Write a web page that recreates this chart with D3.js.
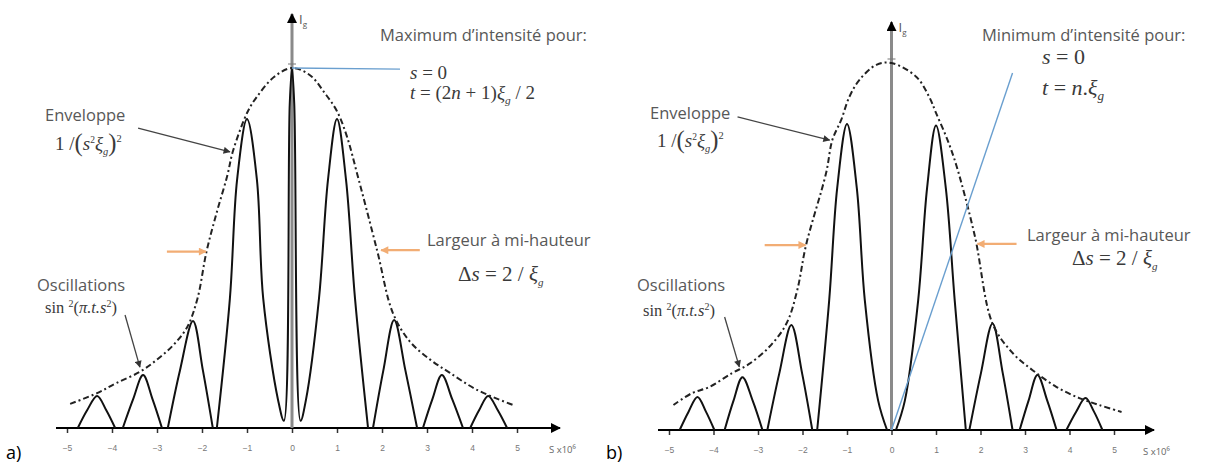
<!DOCTYPE html>
<html>
<head>
<meta charset="utf-8">
<script src="https://cdn.jsdelivr.net/npm/d3@7"></script>
<style>
  body { margin: 0; background: #fff; }
  svg { display: block; font-family: "Open Sans", sans-serif; }
  .lbl { fill: #585858; font-size: 16.5px; }
  .math { font-family: "Liberation Serif", "DejaVu Serif", serif; fill: #3a3a3a; }
  .tick text { fill: #777; font-size: 8.5px; }
</style>
</head>
<body>
<svg id="chart" width="1208" height="463"></svg>
<script>
// s values (x10^6) on the horizontal axis
const sTicks = [-5, -4, -3, -2, -1, 0, 1, 2, 3, 4, 5];

// panel a) oscillation arches, [s, I] with I relative to the envelope maximum
const lobesA = [
  [[-4.76, 0], [-4.55, 0.05], [-4.33, 0.089], [-4.13, 0.05], [-3.93, 0]],
  [[-3.76, 0], [-3.53, 0.08], [-3.31, 0.147], [-3.1, 0.08], [-2.89, 0]],
  [[-2.76, 0], [-2.49, 0.16], [-2.2, 0.297], [-1.98, 0.16], [-1.76, 0]],
  [[-1.67, 0], [-1.38, 0.36], [-1.22, 0.69], [-1.0, 0.858], [-0.78, 0.69], [-0.64, 0.36], [-0.31, 0.078], [-0.18, 0.02],
   [-0.05, 0.9], [0, 1.0], [0.05, 0.9],
   [0.19, 0.02], [0.31, 0.078], [0.6, 0.36], [0.8, 0.69], [1.0, 0.858], [1.2, 0.69], [1.4, 0.36], [1.69, 0]],
  [[1.8, 0], [2.03, 0.16], [2.27, 0.3], [2.52, 0.16], [2.78, 0]],
  [[2.91, 0], [3.12, 0.08], [3.33, 0.147], [3.56, 0.08], [3.8, 0]],
  [[3.96, 0], [4.16, 0.05], [4.36, 0.089], [4.57, 0.05], [4.78, 0]]
];

// panel b) oscillation arches (minimum at s = 0)
const lobesB = [
  [[-4.76, 0], [-4.56, 0.05], [-4.36, 0.09], [-4.17, 0.05], [-3.98, 0]],
  [[-3.75, 0], [-3.55, 0.08], [-3.35, 0.144], [-3.12, 0.08], [-2.9, 0]],
  [[-2.79, 0], [-2.52, 0.155], [-2.25, 0.286], [-2.01, 0.155], [-1.78, 0]],
  [[-1.67, 0], [-1.4, 0.354], [-1.22, 0.66], [-1.0, 0.834], [-0.78, 0.66], [-0.6, 0.354], [-0.3, 0.08], [-0.1, 0]],
  [[0.1, 0], [0.3, 0.08], [0.6, 0.354], [0.8, 0.66], [1.0, 0.83], [1.22, 0.66], [1.42, 0.354], [1.67, 0]],
  [[1.75, 0], [2.01, 0.155], [2.27, 0.29], [2.5, 0.155], [2.72, 0]],
  [[2.88, 0], [3.08, 0.08], [3.28, 0.15], [3.5, 0.08], [3.71, 0]],
  [[3.93, 0], [4.15, 0.05], [4.36, 0.087], [4.55, 0.05], [4.74, 0]]
];

// dash-dot envelope 1/(s.xi_g)^2
const envelopeA = [
  [-4.93, 0.067], [-4.33, 0.097], [-3.9, 0.125], [-3.38, 0.156], [-3.0, 0.19], [-2.64, 0.23],
  [-2.33, 0.28], [-2.1, 0.36], [-1.9, 0.49], [-1.67, 0.6], [-1.44, 0.7], [-1.31, 0.77],
  [-0.98, 0.88], [-0.78, 0.92], [-0.4, 0.975], [0, 1.0], [0.4, 0.98], [0.73, 0.93],
  [1.0, 0.88], [1.22, 0.81], [1.44, 0.71], [1.89, 0.494], [2.24, 0.32], [2.62, 0.24],
  [3.07, 0.19], [3.51, 0.153], [4.11, 0.106], [4.91, 0.064]
];
const envelopeB = [
  [-4.9, 0.068], [-4.49, 0.1], [-4.1, 0.117], [-3.58, 0.155], [-3.2, 0.18], [-2.75, 0.226],
  [-2.36, 0.29], [-2.12, 0.38], [-1.92, 0.504], [-1.47, 0.7], [-1.33, 0.79], [-1.13, 0.845],
  [-0.95, 0.907], [-0.72, 0.954], [-0.34, 0.995], [0, 1.0], [0.56, 0.962], [0.85, 0.907],
  [1.0, 0.864], [1.26, 0.79], [1.46, 0.72], [1.87, 0.53], [2.27, 0.29], [2.72, 0.21],
  [3.17, 0.163], [3.71, 0.117], [4.22, 0.087], [4.67, 0.068], [5.17, 0.049]
];

const svg = d3.select('#chart');
const defs = svg.append('defs');

function marker(id, color, w, h) {
  defs.append('marker')
    .attr('id', id)
    .attr('viewBox', '0 0 10 10')
    .attr('refX', 9).attr('refY', 5)
    .attr('markerWidth', w).attr('markerHeight', h)
    .attr('markerUnits', 'userSpaceOnUse')
    .attr('orient', 'auto')
    .append('path').attr('d', 'M0,0L10,5L0,10z').attr('fill', color);
}
marker('axisHead', '#000', 13, 10);
marker('noteHead', '#333', 9, 7);
marker('orangeHead', '#f2ad74', 9, 8);

const panels = [
  {
    tag: 'a)', lobes: lobesA, env: envelopeA,
    xr: [67, 517], base: 428, top: 68, axisL: 56, axisR: 560, yTip: 14, tagX: 6,
    envArrow: [[-3.42, 0.833], [-1.38, 0.767]],
    oscArrow: [[-3.71, 0.314], [-3.38, 0.169]],
    blue: [[0, 1.0], [2.4, 0.997]],
    half: [[[-2.78, 0.49], [-1.91, 0.49]], [[2.84, 0.494], [1.98, 0.494]]]
  },
  {
    tag: 'b)', lobes: lobesB, env: envelopeB,
    xr: [669, 1114], base: 430, top: 63, axisL: 658, axisR: 1154, yTip: 22, tagX: 606,
    envArrow: [[-3.46, 0.853], [-1.39, 0.79]],
    oscArrow: [[-3.75, 0.308], [-3.42, 0.172]],
    blue: [[0, 0], [2.72, 0.973]],
    half: [[[-2.85, 0.504], [-1.93, 0.504]], [[2.81, 0.507], [1.93, 0.507]]]
  }
];

panels.forEach(p => {
  const x = d3.scaleLinear().domain([-5, 5]).range(p.xr);
  const y = d3.scaleLinear().domain([0, 1]).range([p.base, p.top]);
  const g = svg.append('g');

  // x axis ticks and labels
  g.append('g')
    .attr('class', 'axis')
    .attr('transform', 'translate(0,' + p.base + ')')
    .call(d3.axisBottom(x).tickValues(sTicks).tickSize(5).tickPadding(12).tickFormat(d3.format('d')))
    .call(a => a.select('.domain').remove())
    .call(a => a.selectAll('.tick line').attr('stroke', '#333').attr('stroke-width', 1.5));

  // x axis line with arrow
  g.append('line')
    .attr('x1', p.axisL).attr('x2', p.axisR)
    .attr('y1', p.base).attr('y2', p.base)
    .attr('stroke', '#000').attr('stroke-width', 2.2)
    .attr('marker-end', 'url(#axisHead)');

  g.append('text')
    .attr('x', p.axisR - 11).attr('y', p.base + 25)
    .attr('fill', '#666').attr('font-size', 9.5)
    .text('S x10⁶');

  // y axis (grey) with arrow
  g.append('line')
    .attr('x1', x(0)).attr('x2', x(0))
    .attr('y1', p.base).attr('y2', p.yTip)
    .attr('stroke', '#8a8a8a').attr('stroke-width', 3)
    .attr('marker-end', 'url(#axisHead)');
  g.append('line')
    .attr('x1', x(0) - 4).attr('x2', x(0) + 4)
    .attr('y1', y(1) - 4).attr('y2', y(1) - 4)
    .attr('stroke', '#777').attr('stroke-width', 1);

  const yl = g.append('text').attr('x', x(0) + 7).attr('y', p.yTip + 10).attr('fill', '#555').attr('font-size', 13);
  yl.append('tspan').text('I');
  yl.append('tspan').attr('dy', 3).attr('font-size', 8).text('g');

  // oscillations
  const line = d3.line().x(d => x(d[0])).y(d => y(d[1])).curve(d3.curveCatmullRom.alpha(0.5));
  g.selectAll('.lobe').data(p.lobes).enter().append('path')
    .attr('class', 'lobe')
    .attr('d', line)
    .attr('fill', 'none').attr('stroke', '#111').attr('stroke-width', 2)
    .attr('stroke-linejoin', 'round');

  // envelope
  g.append('path')
    .attr('d', d3.line().x(d => x(d[0])).y(d => y(d[1])).curve(d3.curveCatmullRom)(p.env))
    .attr('fill', 'none').attr('stroke', '#222').attr('stroke-width', 2)
    .attr('stroke-dasharray', '6,3,2,3');

  // annotation arrows
  const seg = (pts) => 'M' + pts.map(d => x(d[0]) + ',' + y(d[1])).join('L');
  g.append('path').attr('d', seg(p.envArrow)).attr('stroke', '#444').attr('stroke-width', 1.3)
    .attr('fill', 'none').attr('marker-end', 'url(#noteHead)');
  g.append('path').attr('d', seg(p.oscArrow)).attr('stroke', '#444').attr('stroke-width', 1.3)
    .attr('fill', 'none').attr('marker-end', 'url(#noteHead)');
  g.append('path').attr('d', seg(p.blue)).attr('stroke', '#6a9fcf').attr('stroke-width', 1.4).attr('fill', 'none');
  p.half.forEach(h => {
    g.append('path').attr('d', seg(h)).attr('stroke', '#f2ad74').attr('stroke-width', 2.2)
      .attr('fill', 'none').attr('marker-end', 'url(#orangeHead)');
  });

  g.append('text').attr('x', p.tagX).attr('y', 459).attr('font-size', 18).attr('fill', '#000').text(p.tag);
});

// ---------- text annotations ----------
function formulaEnv(x0, y0, fs) {
  const t = svg.append('text').attr('class', 'math').attr('x', x0).attr('y', y0).attr('font-size', fs);
  t.append('tspan').text('1 /');
  t.append('tspan').attr('font-size', fs * 1.3).attr('dy', 1).text('(');
  t.append('tspan').attr('font-style', 'italic').attr('dy', -1).text('s');
  t.append('tspan').attr('font-size', fs * 0.5).attr('dy', -7).text('2');
  t.append('tspan').attr('font-style', 'italic').attr('dy', 7).text('ξ');
  t.append('tspan').attr('font-style', 'italic').attr('font-size', fs * 0.55).attr('dy', 5).text('g');
  t.append('tspan').attr('font-size', fs * 1.3).attr('dy', -4).text(')');
  t.append('tspan').attr('font-size', fs * 0.55).attr('dy', -9).text('2');
}
function formulaOsc(x0, y0) {
  const t = svg.append('text').attr('class', 'math').attr('x', x0).attr('y', y0).attr('font-size', 16.5);
  t.append('tspan').text('sin ');
  t.append('tspan').attr('font-size', 10).attr('dy', -6).text('2');
  t.append('tspan').attr('dy', 6).text('(');
  t.append('tspan').attr('font-style', 'italic').text('π.t.s');
  t.append('tspan').attr('font-size', 10).attr('dy', -6).text('2');
  t.append('tspan').attr('dy', 6).text(')');
}
function formulaDelta(x0, y0) {
  const t = svg.append('text').attr('class', 'math').attr('x', x0).attr('y', y0).attr('font-size', 21);
  t.append('tspan').text('Δ');
  t.append('tspan').attr('font-style', 'italic').text('s');
  t.append('tspan').text(' = 2 / ');
  t.append('tspan').attr('font-style', 'italic').text('ξ');
  t.append('tspan').attr('font-style', 'italic').attr('font-size', 11).attr('dy', 5).text('g');
}
function mathLine(x0, y0, fs, parts) {
  const t = svg.append('text').attr('class', 'math').attr('x', x0).attr('y', y0).attr('font-size', fs);
  parts.forEach(pt => {
    const s = t.append('tspan').text(pt[0]);
    if (pt[1] === 'i') s.attr('font-style', 'italic');
    if (pt[1] === 'sub') s.attr('font-style', 'italic').attr('font-size', fs * 0.6).attr('dy', 5);
    if (pt[1] === 'back') s.attr('dy', -5);
  });
}

// panel a
svg.append('text').attr('class', 'lbl').attr('x', 45).attr('y', 121).text('Enveloppe');
formulaEnv(55, 150, 19);
svg.append('text').attr('class', 'lbl').attr('x', 380).attr('y', 41).text('Maximum d\u2019intensité pour:');
mathLine(410, 79, 19, [['s', 'i'], [' = 0']]);
mathLine(410, 99, 19, [['t', 'i'], [' = (2'], ['n', 'i'], [' + 1)'], ['ξ', 'i'], ['g', 'sub'], [' / 2', 'back']]);
svg.append('text').attr('class', 'lbl').attr('x', 427).attr('y', 246).text('Largeur à mi-hauteur');
formulaDelta(458, 281);
svg.append('text').attr('class', 'lbl').attr('x', 37).attr('y', 291).text('Oscillations');
formulaOsc(45, 313);

// panel b
svg.append('text').attr('class', 'lbl').attr('x', 650).attr('y', 119).text('Enveloppe');
formulaEnv(657, 147, 19);
svg.append('text').attr('class', 'lbl').attr('x', 982).attr('y', 41).text('Minimum d\u2019intensité pour:');
mathLine(1042, 64, 22, [['s', 'i'], [' = 0']]);
mathLine(1042, 95, 22, [['t', 'i'], [' = '], ['n', 'i'], ['.'], ['ξ', 'i'], ['g', 'sub']]);
svg.append('text').attr('class', 'lbl').attr('x', 1027).attr('y', 241).text('Largeur à mi-hauteur');
formulaDelta(1072, 265);
svg.append('text').attr('class', 'lbl').attr('x', 637).attr('y', 291).text('Oscillations');
formulaOsc(643, 316);
</script>
</body>
</html>
